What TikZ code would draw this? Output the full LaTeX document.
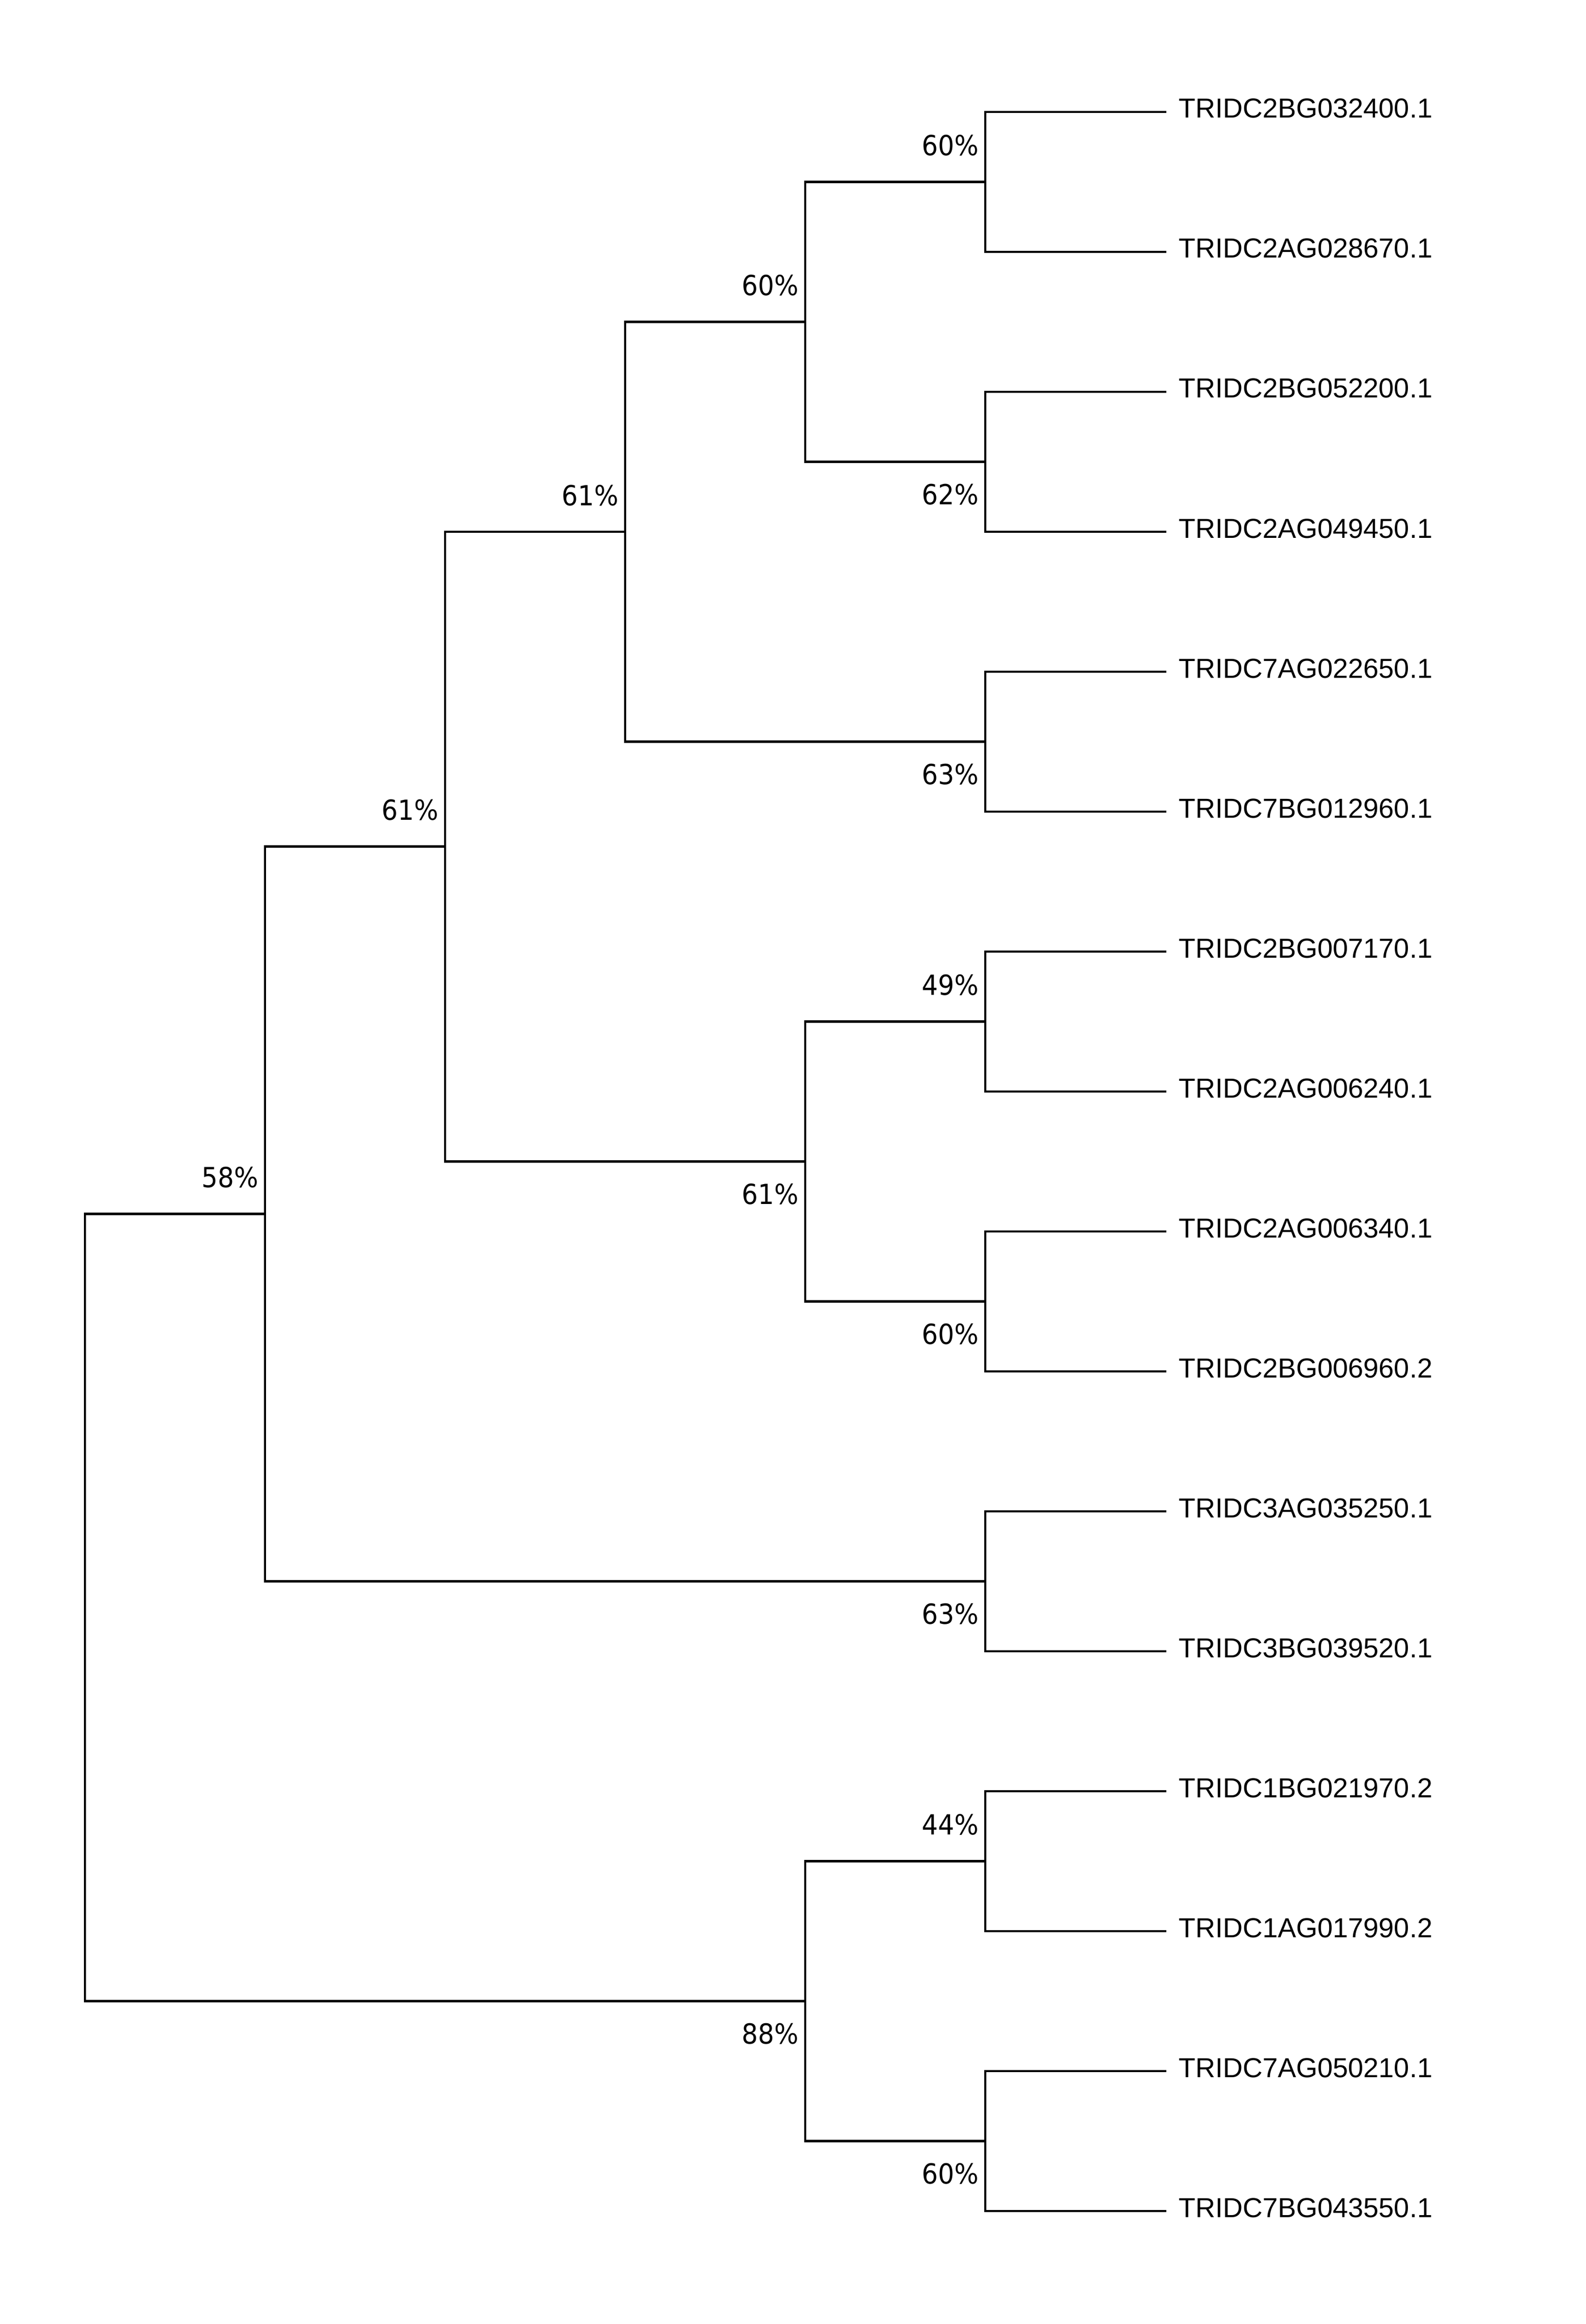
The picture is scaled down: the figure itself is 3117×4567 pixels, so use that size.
\documentclass[tikz,border=0pt]{standalone}
\usepackage{fontspec}
\setmainfont{Liberation Sans}
\newfontfamily\pctfont[FakeStretch=0.92]{DejaVu Sans}
\begin{document}
\begin{tikzpicture}[x=0.25pt,y=-0.25pt,
  branch/.style={line width=1.15pt,line join=miter,line cap=butt,black},
  leaflab/.style={inner sep=0pt,anchor=base west,font=\fontsize{13.5}{16}\selectfont},
  pctup/.style={inner sep=0pt,anchor=base east,font=\pctfont\fontsize{13.6}{16}\selectfont},
  pctdn/.style={inner sep=0pt,anchor=base east,font=\pctfont\fontsize{13.6}{16}\selectfont}]
\useasboundingbox[fill=white] (0,0) rectangle (3117,4567);
% leaf tips
\coordinate (l1) at (2293,220);
\coordinate (l2) at (2293,495);
\coordinate (l3) at (2293,770);
\coordinate (l4) at (2293,1045);
\coordinate (l5) at (2293,1320);
\coordinate (l6) at (2293,1595);
\coordinate (l7) at (2293,1870);
\coordinate (l8) at (2293,2145);
\coordinate (l9) at (2293,2420);
\coordinate (l10) at (2293,2695);
\coordinate (l11) at (2293,2970);
\coordinate (l12) at (2293,3245);
\coordinate (l13) at (2293,3520);
\coordinate (l14) at (2293,3795);
\coordinate (l15) at (2293,4070);
\coordinate (l16) at (2293,4345);
% internal nodes
\coordinate (A) at (1937,357.5);
\coordinate (B) at (1937,907.5);
\coordinate (C) at (1583,632.5);
\coordinate (D) at (1937,1457.5);
\coordinate (E) at (1229,1045);
\coordinate (F) at (1937,2007.5);
\coordinate (G) at (1937,2557.5);
\coordinate (H) at (1583,2282.5);
\coordinate (I) at (875,1663.75);
\coordinate (J) at (1937,3107.5);
\coordinate (K) at (521,2385.6);
\coordinate (L) at (1937,3657.5);
\coordinate (M) at (1937,4207.5);
\coordinate (N) at (1583,3932.5);
\coordinate (R) at (167,3159);
% branches
\draw[branch] (l1) -| (A) |- (l2);
\draw[branch] (l3) -| (B) |- (l4);
\draw[branch] (A) -| (C) |- (B);
\draw[branch] (l5) -| (D) |- (l6);
\draw[branch] (C) -| (E) |- (D);
\draw[branch] (l7) -| (F) |- (l8);
\draw[branch] (l9) -| (G) |- (l10);
\draw[branch] (F) -| (H) |- (G);
\draw[branch] (E) -| (I) |- (H);
\draw[branch] (l11) -| (J) |- (l12);
\draw[branch] (I) -| (K) |- (J);
\draw[branch] (l13) -| (L) |- (l14);
\draw[branch] (l15) -| (M) |- (l16);
\draw[branch] (L) -| (N) |- (M);
\draw[branch] (K) -| (R) |- (N);
% leaf labels
\node[leaflab] (t1) at (2317,232) {TRIDC2BG032400.1};
\node[leaflab] (t2) at (2317,507) {TRIDC2AG028670.1};
\node[leaflab] (t3) at (2317,782) {TRIDC2BG052200.1};
\node[leaflab] (t4) at (2317,1057) {TRIDC2AG049450.1};
\node[leaflab] (t5) at (2317,1332) {TRIDC7AG022650.1};
\node[leaflab] (t6) at (2317,1607) {TRIDC7BG012960.1};
\node[leaflab] (t7) at (2317,1882) {TRIDC2BG007170.1};
\node[leaflab] (t8) at (2317,2157) {TRIDC2AG006240.1};
\node[leaflab] (t9) at (2317,2432) {TRIDC2AG006340.1};
\node[leaflab] (t10) at (2317,2707) {TRIDC2BG006960.2};
\node[leaflab] (t11) at (2317,2982) {TRIDC3AG035250.1};
\node[leaflab] (t12) at (2317,3257) {TRIDC3BG039520.1};
\node[leaflab] (t13) at (2317,3532) {TRIDC1BG021970.2};
\node[leaflab] (t14) at (2317,3807) {TRIDC1AG017990.2};
\node[leaflab] (t15) at (2317,4082) {TRIDC7AG050210.1};
\node[leaflab] (t16) at (2317,4357) {TRIDC7BG043550.1};
% support values
\node[pctup] (pA) at ([shift={(-12,-52)}]A) {60\%};
\node[pctdn] (pB) at ([shift={(-12,84)}]B) {62\%};
\node[pctup] (pC) at ([shift={(-12,-52)}]C) {60\%};
\node[pctdn] (pD) at ([shift={(-12,84)}]D) {63\%};
\node[pctup] (pE) at ([shift={(-12,-52)}]E) {61\%};
\node[pctup] (pF) at ([shift={(-12,-52)}]F) {49\%};
\node[pctdn] (pG) at ([shift={(-12,84)}]G) {60\%};
\node[pctdn] (pH) at ([shift={(-12,84)}]H) {61\%};
\node[pctup] (pI) at ([shift={(-12,-52)}]I) {61\%};
\node[pctdn] (pJ) at ([shift={(-12,84)}]J) {63\%};
\node[pctup] (pK) at ([shift={(-12,-52)}]K) {58\%};
\node[pctup] (pL) at ([shift={(-12,-52)}]L) {44\%};
\node[pctdn] (pM) at ([shift={(-12,84)}]M) {60\%};
\node[pctdn] (pN) at ([shift={(-12,84)}]N) {88\%};
\end{tikzpicture}
\end{document}
